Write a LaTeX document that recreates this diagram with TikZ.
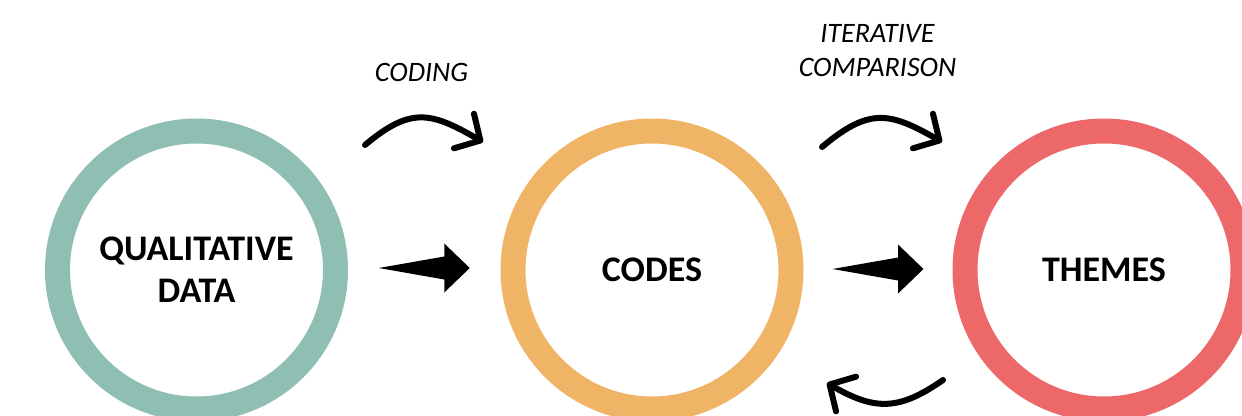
\documentclass[tikz,border=0pt]{standalone}
\usepackage{fontspec}
\setmainfont{Carlito}
\usepackage{xcolor}
\usepackage{tikz}
\usetikzlibrary{arrows.meta,positioning,calc,shapes.geometric}
\definecolor{sagegreen}{RGB}{143,191,179}
\definecolor{sandorange}{RGB}{240,180,102}
\definecolor{coralred}{RGB}{237,104,104}
\tikzset{
  ring/.style={circle, draw, line width=0.5cm, minimum size=5.56cm, inner sep=0pt, align=center, font=\fontsize{20.5}{24}\selectfont\bfseries},
  steplabel/.style={align=center, font=\fontsize{16}{19.4}\selectfont\itshape},
  bentarrow/.style={line width=0.12cm, line cap=round, -{Straight Barb[length=0.38cm,width=0.8cm,round]}},
  blockarrow/.pic={\fill (-0.91,0) -- (0.40,0.23) -- (0.40,0.49) -- (0.91,0) -- (0.40,-0.49) -- (0.40,-0.23) -- cycle;}
}

\begin{document}
\begin{tikzpicture}
      \useasboundingbox (0,0) rectangle (24.84,8.3);

      % the three stages
      \node[ring, draw=sagegreen] (qd) at (3.93,2.90) {QUALITATIVE\\DATA};
      \node[ring, draw=sandorange] (cd) at (13.04,2.90) {CODES};
      \node[ring, draw=coralred] (th) at (22.08,2.90) {THEMES};

      % block arrows between the stages
      \pic at ($(qd.east)!0.5!(cd.west)+(0,0.04)$) {blockarrow};
      \pic at ($(cd.east)!0.5!(th.west)+(0,0.02)$) {blockarrow};

      % process labels
      \node[steplabel] (coding) at (8.43,6.85) {CODING};
      \node[steplabel] (iter) at (17.55,7.28) {ITERATIVE\\COMPARISON};

      \coordinate (c1) at (7.30,5.40);
      \coordinate (c2) at (9.66,5.46);
      \coordinate (i1) at (16.44,5.36);
      \coordinate (i2) at (18.84,5.46);
      \coordinate (b1) at (18.86,0.70);
      \coordinate (b2) at (16.54,0.64);

      \draw[bentarrow] (c1) to[out=40, in=150, looseness=1.3] (c2);
      \draw[bentarrow] (i1) to[out=40, in=150, looseness=1.3] (i2);
      \draw[bentarrow] (b1) to[out=-145, in=-30, looseness=1.2] (b2);
\end{tikzpicture}
\end{document}
